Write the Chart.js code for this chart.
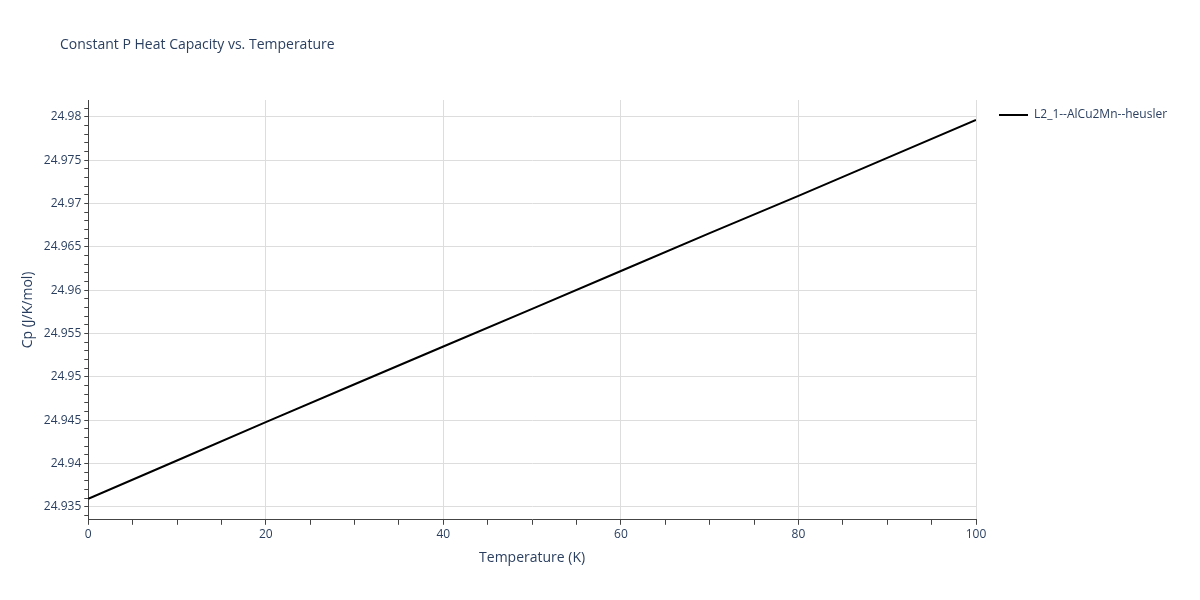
<!DOCTYPE html>
<html><head><meta charset="utf-8">
<script src="https://cdn.jsdelivr.net/npm/chart.js@4"></script>
<style>body{margin:0;background:#fff}#w{width:1200px;height:600px}</style>
</head><body><div id="w"><canvas id="c"></canvas></div>
<script>
const temperatures = [0,10,20,30,40,50,60,70,80,90,100];
const cpValues = [24.93592,24.94035,24.94478,24.94915,24.95350,24.95785,24.96222,24.96660,24.97090,24.97528,24.97965];
const seriesName = 'L2_1--AlCu2Mn--heusler';
const chartTitle = 'Constant P Heat Capacity vs. Temperature';
const font = {family:'"Open Sans", sans-serif', size:12};
const axisColor = '#2a3f5f';
const overlay = {id:'overlay', afterDraw(chart){
  const c=chart.ctx; c.save();
  c.fillStyle=axisColor; c.textBaseline='middle';
  c.font='14px "Open Sans", sans-serif'; c.fillText(chartTitle,60,45);
  c.font='12px "Open Sans", sans-serif'; c.fillText(seriesName,1034,115);
  c.strokeStyle='#000'; c.lineWidth=2; c.beginPath(); c.moveTo(999,115); c.lineTo(1028,115); c.stroke();
  c.restore();
}};
new Chart(document.getElementById('c'), {
  type:'line',
  data:{datasets:[{label:seriesName, data:temperatures.map((t,i)=>({x:t,y:cpValues[i]})),
    borderColor:'#000', backgroundColor:'#000', borderWidth:2, pointRadius:0, tension:0}]},
  plugins:[overlay],
  options:{
    responsive:true, maintainAspectRatio:false, animation:false,
    layout:{padding:{top:100,right:224,bottom:30,left:16}},
    plugins:{title:{display:false}, legend:{display:false}},
    scales:{
      x:{type:'linear', min:0, max:100,
        title:{display:true, text:'Temperature (K)', color:axisColor, font:{...font,size:14}},
        ticks:{stepSize:5, color:axisColor, font, autoSkip:false, maxRotation:0,
          callback:v=> v%20===0 ? v : ''},
        grid:{color:ctx=> (ctx.tick && ctx.tick.value%20===0 && ctx.tick.value!==0) ? '#dddddd' : 'rgba(0,0,0,0)',
          tickColor:'#444', tickLength:5, drawOnChartArea:true},
        border:{color:'#444', width:1}},
      y:{type:'linear', min:24.9335, max:24.98196,
        title:{display:true, text:'Cp (J/K/mol)', color:axisColor, font:{...font,size:14}},
        afterBuildTicks:ax=>{const t=[];for(let k=24934;k<=24981;k++)t.push({value:k/1000});ax.ticks=t;},
        ticks:{color:axisColor, font, autoSkip:false,
          callback:v=>{const m=Math.round(v*1000); return m%5===0 ? String(+(m/1000).toFixed(3)) : '';}},
        grid:{color:ctx=> (ctx.tick && Math.round(ctx.tick.value*1000)%5===0) ? '#dddddd' : 'rgba(0,0,0,0)',
          tickColor:'#444', tickLength:4},
        border:{color:'#444', width:1}}
    }
  }
});
</script></body></html>
